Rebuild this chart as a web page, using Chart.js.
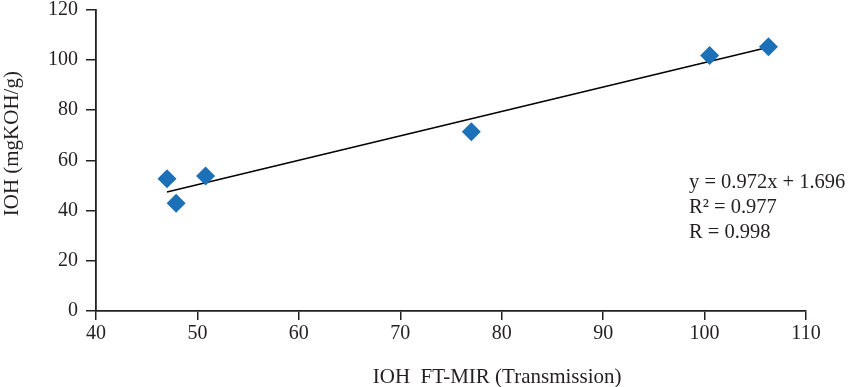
<!DOCTYPE html>
<html>
<head>
<meta charset="utf-8">
<script src="https://cdn.jsdelivr.net/npm/chart.js@4/dist/chart.umd.min.js"></script>
<style>
  html, body { margin: 0; padding: 0; background: #ffffff; }
  #wrap { width: 850px; height: 387px; position: relative; }
</style>
</head>
<body>
<div id="wrap"><canvas id="c" width="850" height="387"></canvas></div>
<script>
// Data
const xValues = [47.0, 47.9, 50.8, 77.0, 100.5, 106.3];
const yValues = [52.6, 42.9, 53.7, 71.3, 101.7, 105.2];
const trendX = [47.0, 106.3];
const trendY = [47.4, 105.0];
const xTicks = [40, 50, 60, 70, 80, 90, 100, 110];
const yTicks = [0, 20, 40, 60, 80, 100, 120];
const xTitle = 'IOH  FT-MIR (Transmission)';
const yTitle = 'IOH (mgKOH/g)';
const annotationLines = ['y = 0.972x + 1.696', 'R\u00B2 = 0.977', 'R = 0.998'];

const FONT = '"Liberation Serif", "DejaVu Serif", serif';
const BLUE = '#1c70b8';

const textPlugin = {
  id: 'textPlugin',
  afterDraw(chart) {
    const ctx = chart.ctx;
    const ca = chart.chartArea;
    ctx.save();
    ctx.fillStyle = '#231f20';
    // x axis title
    ctx.font = '21px ' + FONT;
    ctx.textAlign = 'center';
    ctx.textBaseline = 'middle';
    ctx.fillText(xTitle, ca.left + (ca.right - ca.left) * 0.565, ca.bottom + 66);
    // y axis title
    ctx.save();
    ctx.translate(12, ca.top + (ca.bottom - ca.top) * 0.445);
    ctx.rotate(-Math.PI / 2);
    ctx.fillText(yTitle, 0, 0);
    ctx.restore();
    // annotation
    ctx.font = '20.5px ' + FONT;
    ctx.textAlign = 'left';
    annotationLines.forEach((t, i) => {
      ctx.fillText(t, ca.left + 593, ca.top + 173 + i * 25);
    });
    ctx.restore();
  }
};

new Chart(document.getElementById('c'), {
  type: 'scatter',
  data: {
    datasets: [
      {
        label: 'IOH',
        data: xValues.map((x, i) => ({ x: x, y: yValues[i] })),
        pointStyle: 'rectRot',
        pointRadius: 9.5,
        pointHoverRadius: 9.5,
        backgroundColor: BLUE,
        borderColor: BLUE,
        borderWidth: 0,
        order: 1
      },
      {
        label: 'Trend',
        type: 'line',
        data: trendX.map((x, i) => ({ x: x, y: trendY[i] })),
        borderColor: '#000000',
        borderWidth: 1.5,
        pointRadius: 0,
        fill: false,
        order: 2
      }
    ]
  },
  options: {
    responsive: false,
    animation: false,
    devicePixelRatio: 1,
    layout: { padding: { left: 0, top: 7, right: 44, bottom: 0 } },
    plugins: {
      legend: { display: false },
      tooltip: { enabled: false },
      title: { display: false }
    },
    scales: {
      x: {
        type: 'linear',
        min: 40, max: 110,
        afterBuildTicks(scale) { scale.ticks = xTicks.map(v => ({ value: v })); },
        afterFit(scale) { scale.height = 76; scale.paddingLeft = 0; scale.paddingRight = 0; },
        border: { display: true, color: '#231f20', width: 1.8 },
        grid: { display: true, drawOnChartArea: false, drawTicks: true, tickLength: 9, color: '#231f20', lineWidth: 1.5 },
        ticks: { color: '#231f20', font: { family: FONT, size: 20 }, padding: 2, maxRotation: 0 }
      },
      y: {
        type: 'linear',
        min: 0, max: 120,
        afterBuildTicks(scale) { scale.ticks = yTicks.map(v => ({ value: v })); },
        afterFit(scale) { scale.width = 96; scale.paddingTop = 0; scale.paddingBottom = 0; },
        border: { display: true, color: '#231f20', width: 1.8 },
        grid: { display: true, drawOnChartArea: false, drawTicks: true, tickLength: 10, color: '#231f20', lineWidth: 1.5 },
        ticks: { color: '#231f20', font: { family: FONT, size: 20 }, padding: 8 }
      }
    }
  },
  plugins: [textPlugin]
});
</script>
</body>
</html>
